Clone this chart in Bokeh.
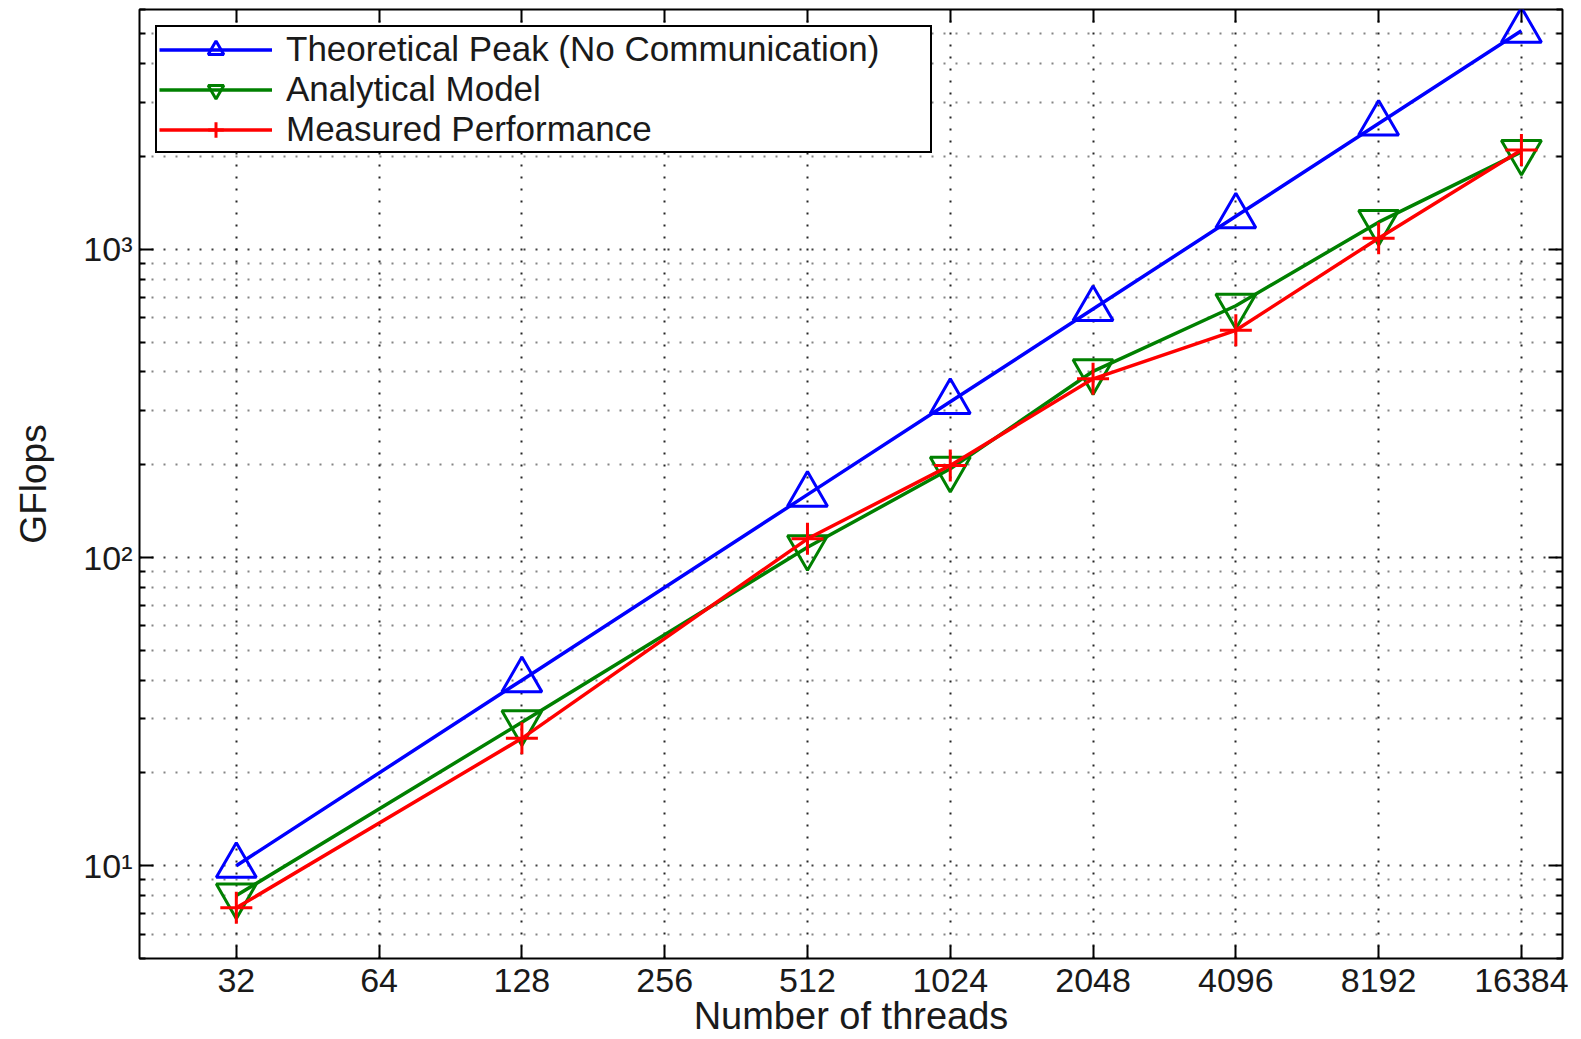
from bokeh.plotting import figure
from bokeh.models import FixedTicker, LogAxis, NumeralTickFormatter, CustomJSTickFormatter
from bokeh.embed import file_html
from bokeh.resources import INLINE

threads = [32, 128, 512, 1024, 2048, 4096, 8192, 16384]
theoretical = [10, 40, 160, 320, 640, 1280, 2560, 5120]
analytical = [8.0, 29.2, 108, 194, 402, 656, 1225, 2070]
measured = [7.3, 25.9, 115, 199, 380, 546, 1087, 2100]

x_ticks = [32, 64, 128, 256, 512, 1024, 2048, 4096, 8192, 16384]
y_ticks = [10, 100, 1000]
y_tick_labels = ["10¹", "10²", "10³"]
y_minor_ticks = [5, 6, 7, 8, 9, 20, 30, 40, 50, 60, 70, 80, 90,
                 200, 300, 400, 500, 600, 700, 800, 900,
                 2000, 3000, 4000, 5000, 6000]

series_names = ["Theoretical Peak (No Communication)", "Analytical Model", "Measured Performance"]

FONT = "Liberation Sans"
TXT = "#1a1a1a"

p = figure(width=1578, height=1039, x_axis_type="log", y_axis_type="log",
           x_range=(20, 20000), y_range=(5, 6000),
           output_backend="svg", toolbar_location=None,
           min_border_left=139, min_border_right=16, min_border_top=9, min_border_bottom=81,
           x_axis_label="Number of threads", y_axis_label="GFlops")

p.outline_line_color = "black"
p.outline_line_width = 2
p.background_fill_color = "white"

# bottom axis
xa = p.xaxis[0]
xa.ticker = FixedTicker(ticks=x_ticks, minor_ticks=[])
xa.formatter = NumeralTickFormatter(format="0")
xa.axis_line_color = None
xa.major_tick_in = 13
xa.major_tick_out = 0
xa.minor_tick_in = 0
xa.minor_tick_out = 0
xa.major_tick_line_width = 2
xa.major_label_standoff = 10
xa.major_label_text_font = FONT
xa.major_label_text_font_size = "34px"
xa.major_label_text_color = TXT
xa.axis_label_text_font = FONT
xa.axis_label_text_font_size = "38px"
xa.axis_label_text_font_style = "normal"
xa.axis_label_text_color = TXT
xa.axis_label_standoff = 0

# left axis
ya = p.yaxis[0]
ya.ticker = FixedTicker(ticks=y_ticks, minor_ticks=y_minor_ticks)
ya.major_label_overrides = {t: l for t, l in zip(y_ticks, y_tick_labels)}
ya.axis_line_color = None
ya.major_tick_in = 14
ya.major_tick_out = 0
ya.minor_tick_in = 6
ya.minor_tick_out = 0
ya.major_tick_line_width = 2
ya.minor_tick_line_width = 2
ya.major_label_standoff = 7
ya.major_label_text_font = FONT
ya.major_label_text_font_size = "34px"
ya.major_label_text_color = TXT
ya.axis_label_text_font = FONT
ya.axis_label_text_font_size = "37px"
ya.axis_label_text_font_style = "normal"
ya.axis_label_text_color = TXT
ya.axis_label_standoff = 26

# mirrored tick marks on top and right
blank = CustomJSTickFormatter(code="return ''")
top = LogAxis(ticker=FixedTicker(ticks=x_ticks, minor_ticks=[]), formatter=blank,
              axis_line_color=None, major_tick_in=13, major_tick_out=0,
              minor_tick_in=0, minor_tick_out=0, major_tick_line_width=2,
              major_label_standoff=0)
right = LogAxis(ticker=FixedTicker(ticks=y_ticks, minor_ticks=y_minor_ticks), formatter=blank,
                axis_line_color=None, major_tick_in=14, major_tick_out=0,
                minor_tick_in=6, minor_tick_out=0, major_tick_line_width=2,
                minor_tick_line_width=2, major_label_standoff=0)
p.add_layout(top, "above")
p.add_layout(right, "right")

# grids
p.xgrid.grid_line_color = "black"
p.xgrid.grid_line_alpha = 0.85
p.xgrid.grid_line_dash = "2 10"
p.xgrid.grid_line_width = 2
p.ygrid.grid_line_color = "black"
p.ygrid.grid_line_alpha = 0.75
p.ygrid.grid_line_dash = "2 10"
p.ygrid.grid_line_width = 2
p.ygrid.minor_grid_line_color = "#333333"
p.ygrid.minor_grid_line_alpha = 0.6
p.ygrid.minor_grid_line_dash = "2 10"
p.ygrid.minor_grid_line_width = 2

# series
p.line(threads, theoretical, line_color="#0000ff", line_width=3.5, legend_label=series_names[0])
p.scatter(threads, theoretical, marker="triangle", size=40, fill_color=None,
          line_color="#0000ff", line_width=3, legend_label=series_names[0])

p.line(threads, analytical, line_color="#008000", line_width=3.5, legend_label=series_names[1])
p.scatter(threads, analytical, marker="inverted_triangle", size=40, fill_color=None,
          line_color="#008000", line_width=3, legend_label=series_names[1])

p.line(threads, measured, line_color="#ff0000", line_width=3.5, legend_label=series_names[2])
p.scatter(threads, measured, marker="cross", size=32, fill_color=None,
          line_color="#ff0000", line_width=3, legend_label=series_names[2])

lg = p.legend[0]
lg.location = "top_left"
lg.margin = 16
lg.padding = 2
lg.spacing = -3
lg.glyph_width = 113
lg.glyph_height = 39
lg.label_height = 39
lg.label_width = 642
lg.label_standoff = 14
lg.label_text_font = FONT
lg.label_text_font_size = "35px"
lg.label_text_color = TXT
lg.border_line_color = "black"
lg.border_line_width = 2
lg.border_line_alpha = 1
lg.background_fill_alpha = 1

open("out.html", "w").write(file_html(p, INLINE))
